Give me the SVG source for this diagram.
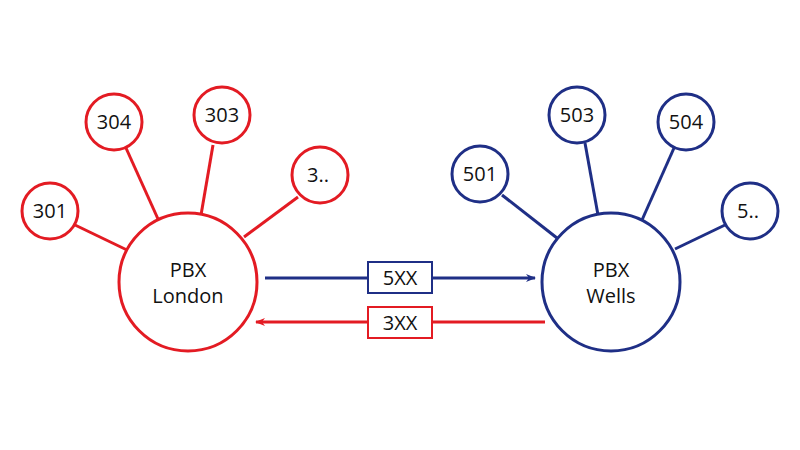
<svg xmlns="http://www.w3.org/2000/svg" width="800" height="450" viewBox="0 0 800 450">
<defs>
<style>
.r{stroke:#e31b23;fill:#fff;stroke-width:3}
.b{stroke:#1f2f86;fill:#fff;stroke-width:3}
.rl{stroke:#e31b23;stroke-width:3;fill:none}
.bl{stroke:#1f2f86;stroke-width:3;fill:none}
text{font-family:"Open Sans","Liberation Sans",sans-serif;font-size:20px;fill:#111;text-anchor:middle}
.box{fill:#fff;stroke-width:2}
</style>
<marker id="ab" markerWidth="10" markerHeight="8" refX="9" refY="4" orient="auto" markerUnits="userSpaceOnUse"><path d="M0,0 L10,4 L0,8 L3,4 Z" fill="#1f2f86"/></marker>
<marker id="ar" markerWidth="10" markerHeight="8" refX="9" refY="4" orient="auto" markerUnits="userSpaceOnUse"><path d="M0,0 L10,4 L0,8 L3,4 Z" fill="#e31b23"/></marker>
</defs>
<rect width="800" height="450" fill="#fff"/>
<g id="connectors">
<line class="rl" x1="75" y1="225" x2="127" y2="250"/>
<line class="rl" x1="126" y1="148" x2="158" y2="219"/>
<line class="rl" x1="213" y1="145" x2="201" y2="215"/>
<line class="rl" x1="298" y1="197" x2="244" y2="237"/>
<line class="bl" x1="502" y1="195" x2="557" y2="238"/>
<line class="bl" x1="585" y1="143" x2="598" y2="215"/>
<line class="bl" x1="674" y1="148" x2="642" y2="220"/>
<line class="bl" x1="725" y1="225" x2="675" y2="249"/>
<line class="bl" x1="265" y1="278" x2="535" y2="278" marker-end="url(#ab)"/>
<line class="rl" x1="545" y1="322" x2="256" y2="322" marker-end="url(#ar)"/>
<g id="label-5xx"><rect class="box" x="368" y="262" width="64" height="31" stroke="#1f2f86"/><text x="400" y="285">5XX</text></g>
<g id="label-3xx"><rect class="box" x="368" y="307" width="64" height="31" stroke="#e31b23"/><text x="400" y="330">3XX</text></g>
</g>
<g id="pbx-london"><circle class="r" cx="188" cy="282" r="69"/><text x="188" y="277">PBX</text><text x="188" y="303">London</text></g>
<g id="n301"><circle class="r" cx="50" cy="211" r="28"/><text x="50" y="218">301</text></g>
<g id="n304"><circle class="r" cx="114" cy="122" r="28"/><text x="114" y="129">304</text></g>
<g id="n303"><circle class="r" cx="222" cy="115" r="28"/><text x="222" y="122">303</text></g>
<g id="n3x"><circle class="r" cx="320" cy="175" r="28"/><text x="318" y="182">3..</text></g>
<g id="pbx-wells"><circle class="b" cx="611" cy="282" r="69"/><text x="611" y="277">PBX</text><text x="611" y="303">Wells</text></g>
<g id="n501"><circle class="b" cx="480" cy="174" r="28"/><text x="480" y="181">501</text></g>
<g id="n503"><circle class="b" cx="577" cy="115" r="28"/><text x="577" y="122">503</text></g>
<g id="n504"><circle class="b" cx="686" cy="122" r="28"/><text x="686" y="129">504</text></g>
<g id="n5x"><circle class="b" cx="750" cy="211" r="28"/><text x="748" y="218">5..</text></g>
</svg>
